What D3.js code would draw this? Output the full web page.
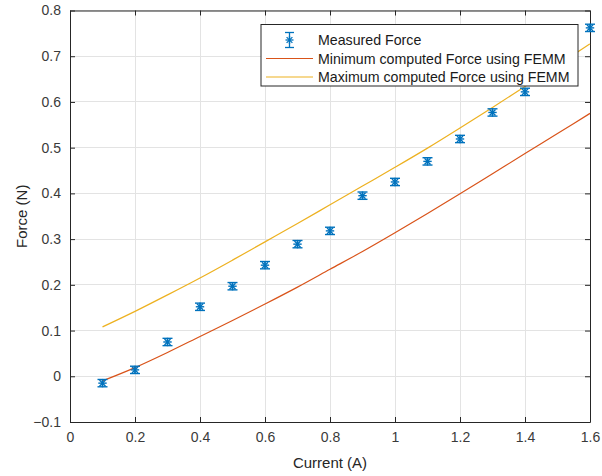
<!DOCTYPE html>
<html>
<head>
<meta charset="utf-8">
<script src="https://cdn.jsdelivr.net/npm/d3@7"></script>
<style>
  html, body { margin: 0; padding: 0; background: #ffffff; }
  svg { display: block; font-family: "Liberation Sans", Arial, Helvetica, sans-serif; }
</style>
</head>
<body>
<svg id="chart" width="602" height="476"></svg>
<script>
// Current steps (A)
const current = [0.1, 0.2, 0.3, 0.4, 0.5, 0.6, 0.7, 0.8, 0.9, 1.0, 1.1, 1.2, 1.3, 1.4, 1.5, 1.6];
// Measured force (N) and its uncertainty
const measuredForce = [-0.015, 0.014, 0.075, 0.152, 0.197, 0.243, 0.289, 0.318, 0.395, 0.425, 0.470, 0.519, 0.577, 0.622, 0.69, 0.762];
const measuredError = [0.008, 0.008, 0.008, 0.008, 0.008, 0.008, 0.008, 0.008, 0.008, 0.008, 0.008, 0.008, 0.008, 0.008, 0.008, 0.008];
// FEMM simulation bounds (N)
const minComputed = [-0.010, 0.019, 0.052, 0.087, 0.122, 0.158, 0.195, 0.234, 0.273, 0.314, 0.356, 0.399, 0.443, 0.487, 0.531, 0.575];
const maxComputed = [0.108, 0.142, 0.178, 0.215, 0.254, 0.294, 0.334, 0.375, 0.416, 0.457, 0.499, 0.543, 0.588, 0.634, 0.680, 0.727];

const xTicks = [0, 0.2, 0.4, 0.6, 0.8, 1.0, 1.2, 1.4, 1.6];
const yTicks = [-0.1, 0, 0.1, 0.2, 0.3, 0.4, 0.5, 0.6, 0.7, 0.8];
const legendLabels = ["Measured Force", "Minimum computed Force using FEMM", "Maximum computed Force using FEMM"];

const colBlue = "#0072BD", colRed = "#D95319", colYellow = "#EDB120";
const axisColor = "#262626", gridColor = "#e3e3e3";

const svg = d3.select("#chart");
const m = { left: 70, right: 590, top: 10.5, bottom: 422 };
const x = d3.scaleLinear().domain([0, 1.6]).range([m.left, m.right]);
const y = d3.scaleLinear().domain([-0.1, 0.8]).range([m.bottom, m.top]);
const fmt = d => (d === 0 ? "0" : d3.format("~g")(d));

// grid
const grid = svg.append("g");
grid.selectAll("line.gx").data(xTicks).join("line")
  .attr("x1", d => x(d)).attr("x2", d => x(d)).attr("y1", m.top).attr("y2", m.bottom)
  .attr("stroke", gridColor).attr("stroke-width", 1).attr("shape-rendering", "crispEdges");
grid.selectAll("line.gy").data(yTicks).join("line")
  .attr("y1", d => y(d)).attr("y2", d => y(d)).attr("x1", m.left).attr("x2", m.right)
  .attr("stroke", gridColor).attr("stroke-width", 1).attr("shape-rendering", "crispEdges");

// axes (box with inward ticks on all sides)
function styleAxis(g) {
  g.select(".domain").attr("stroke", axisColor);
  g.selectAll(".tick line").attr("stroke", axisColor);
  g.selectAll(".tick text").attr("fill", "#3a3a3a").style("font-size", "14px")
    .style("font-family", '"Liberation Sans", Arial, sans-serif');
}
svg.append("g").attr("transform", `translate(0,${m.bottom})`)
  .call(d3.axisBottom(x).tickValues(xTicks).tickFormat(fmt).tickSizeInner(-5).tickSizeOuter(0).tickPadding(10))
  .call(styleAxis);
svg.append("g").attr("transform", `translate(${m.left},0)`)
  .call(d3.axisLeft(y).tickValues(yTicks).tickFormat(fmt).tickSizeInner(-5).tickSizeOuter(0).tickPadding(9))
  .call(styleAxis);
svg.append("g").attr("transform", `translate(0,${m.top})`)
  .call(d3.axisTop(x).tickValues(xTicks).tickFormat("").tickSizeInner(-5).tickSizeOuter(0))
  .call(styleAxis);
svg.append("g").attr("transform", `translate(${m.right},0)`)
  .call(d3.axisRight(y).tickValues(yTicks).tickFormat("").tickSizeInner(-5).tickSizeOuter(0))
  .call(styleAxis);

// axis titles
svg.append("text").attr("x", (m.left + m.right) / 2).attr("y", 468)
  .attr("text-anchor", "middle").attr("fill", "#262626").style("font-size", "15px").text("Current (A)");
svg.append("text").attr("transform", `translate(27,${(m.top + m.bottom) / 2}) rotate(-90)`)
  .attr("text-anchor", "middle").attr("fill", "#262626").style("font-size", "15px").text("Force (N)");

const plot = svg.append("g");

// computed curves
const lineGen = arr => d3.line().curve(d3.curveMonotoneX).x((d, i) => x(current[i])).y(d => y(d))(arr);
plot.append("path").attr("d", lineGen(minComputed)).attr("fill", "none").attr("stroke", colRed).attr("stroke-width", 1.2);
plot.append("path").attr("d", lineGen(maxComputed)).attr("fill", "none").attr("stroke", colYellow).attr("stroke-width", 1.2);

// error bar with asterisk marker
function errMarker(g, cx, cy, yTop, yBot, capW, r) {
  g.append("line").attr("x1", cx).attr("x2", cx).attr("y1", yTop).attr("y2", yBot);
  g.append("line").attr("x1", cx - capW / 2).attr("x2", cx + capW / 2).attr("y1", yTop).attr("y2", yTop);
  g.append("line").attr("x1", cx - capW / 2).attr("x2", cx + capW / 2).attr("y1", yBot).attr("y2", yBot);
  // asterisk
  g.append("line").attr("x1", cx - r).attr("x2", cx + r).attr("y1", cy).attr("y2", cy);
  g.append("line").attr("x1", cx).attr("x2", cx).attr("y1", cy - r).attr("y2", cy + r);
  const d = r * 0.72;
  g.append("line").attr("x1", cx - d).attr("x2", cx + d).attr("y1", cy - d).attr("y2", cy + d);
  g.append("line").attr("x1", cx - d).attr("x2", cx + d).attr("y1", cy + d).attr("y2", cy - d);
}
const pts = plot.append("g").attr("stroke", colBlue).attr("stroke-width", 1.4);
current.forEach((c, i) => {
  const g = pts.append("g");
  errMarker(g, x(c), y(measuredForce[i]), y(measuredForce[i] + measuredError[i]), y(measuredForce[i] - measuredError[i]), 10, 4.2);
});

// legend
const lg = svg.append("g");
lg.append("rect").attr("x", 261).attr("y", 24.5).attr("width", 317).attr("height", 61.5)
  .attr("fill", "#ffffff").attr("stroke", "#262626").attr("stroke-width", 1);
const rowY = [40, 58.5, 77];
const lm = lg.append("g").attr("stroke", colBlue).attr("stroke-width", 1.3);
errMarker(lm, 289.5, rowY[0], rowY[0] - 7.5, rowY[0] + 7.5, 9, 4);
lg.append("line").attr("x1", 266).attr("x2", 313).attr("y1", rowY[1]).attr("y2", rowY[1]).attr("stroke", colRed).attr("stroke-width", 1.2);
lg.append("line").attr("x1", 266).attr("x2", 313).attr("y1", rowY[2]).attr("y2", rowY[2]).attr("stroke", colYellow).attr("stroke-width", 1.2);
lg.selectAll("text").data(legendLabels).join("text")
  .attr("x", 318).attr("y", (d, i) => rowY[i]).attr("dy", "0.36em")
  .attr("fill", "#1a1a1a").style("font-size", "14.2px").text(d => d);
</script>
</body>
</html>
